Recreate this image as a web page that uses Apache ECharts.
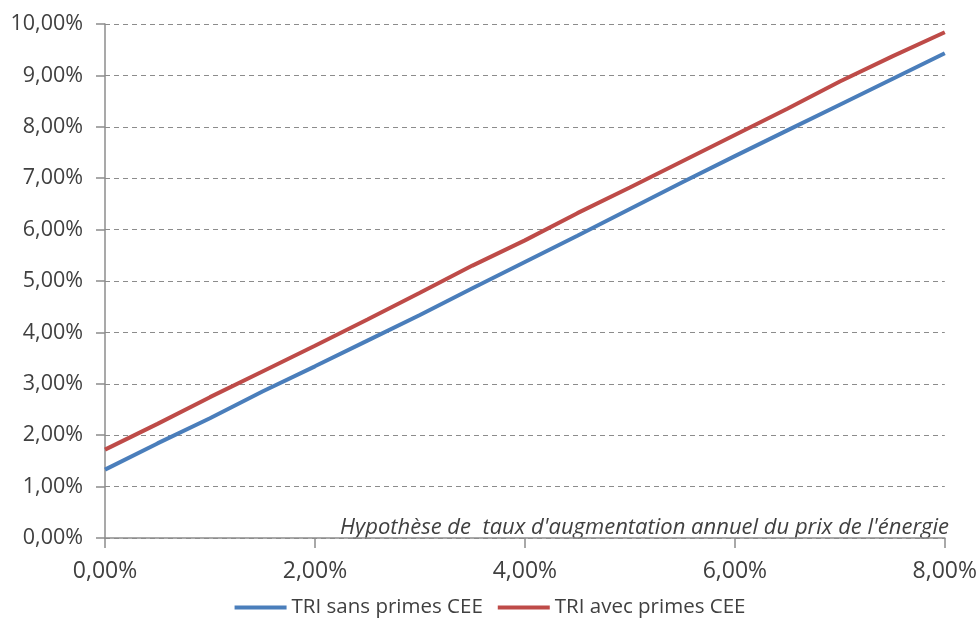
<!DOCTYPE html>
<html>
<head>
<meta charset="utf-8">
<script src="https://cdn.jsdelivr.net/npm/echarts@6/dist/echarts.min.js"></script>
<style>html,body{margin:0;padding:0;background:#fff;}#c{width:980px;height:621px;}</style>
</head>
<body>
<div id="c"></div>
<script>
const xValues = [0, 0.5, 1.0, 1.5, 2.0, 2.5, 3.0, 3.5, 4.0, 4.5, 5.0, 5.5, 6.0, 6.5, 7.0, 7.5, 8.0];
const triSans = [1.33, 1.84, 2.33, 2.85, 3.34, 3.84, 4.34, 4.86, 5.37, 5.88, 6.40, 6.92, 7.43, 7.93, 8.43, 8.93, 9.43];
const triAvec = [1.72, 2.22, 2.74, 3.24, 3.74, 4.25, 4.77, 5.30, 5.79, 6.32, 6.82, 7.33, 7.84, 8.35, 8.88, 9.37, 9.84];
const seriesNames = ['TRI sans primes CEE', 'TRI avec primes CEE'];
const xTitle = "Hypothèse de  taux d'augmentation annuel du prix de l'énergie";

const fmt = v => v.toFixed(2).replace('.', ',') + '%';
const font = '"Open Sans", Lato, sans-serif';
const chart = echarts.init(document.getElementById('c'), null, {renderer: 'canvas'});
chart.setOption({
  animation: false,
  backgroundColor: '#ffffff',
  textStyle: {fontFamily: font},
  grid: {left: 105, right: 35, top: 24, bottom: 83, containLabel: false},
  legend: {
    bottom: -2, left: 'center', itemWidth: 52, itemHeight: 4, itemGap: 15,
    icon: 'rect',
    textStyle: {fontSize: 20.5, color: '#404040', fontFamily: font},
    data: seriesNames
  },
  xAxis: {
    type: 'value', min: 0, max: 8, interval: 2,
    axisLine: {lineStyle: {color: '#8c8c8c', width: 1.5}},
    axisTick: {show: true, length: 10, lineStyle: {color: '#8c8c8c', width: 1.5}},
    axisLabel: {formatter: fmt, fontSize: 23, color: '#404040', margin: 22, fontFamily: font},
    splitLine: {show: false}
  },
  yAxis: {
    type: 'value', min: 0, max: 10, interval: 1,
    axisLine: {show: true, lineStyle: {color: '#8c8c8c', width: 1.5}},
    axisTick: {show: true, length: 9, lineStyle: {color: '#8c8c8c', width: 1.5}},
    axisLabel: {formatter: fmt, fontSize: 21.5, color: '#404040', margin: 22, fontFamily: font},
    splitLine: {show: true, lineStyle: {color: '#8c8c8c', type: [5, 4], width: 1.2}}
  },
  graphic: [{
    type: 'text', x: 949, y: 539,
    style: {text: xTitle, font: 'italic 22px ' + font, fill: '#404040', align: 'right', verticalAlign: 'bottom'}
  }],
  series: [
    {name: seriesNames[0], type: 'line', showSymbol: false, symbol: 'none',
     data: xValues.map((x, i) => [x, triSans[i]]),
     lineStyle: {color: '#4a7ebb', width: 4}, itemStyle: {color: '#4a7ebb'}},
    {name: seriesNames[1], type: 'line', showSymbol: false, symbol: 'none',
     data: xValues.map((x, i) => [x, triAvec[i]]),
     lineStyle: {color: '#be4b48', width: 4}, itemStyle: {color: '#be4b48'}}
  ]
});
</script>
</body>
</html>
